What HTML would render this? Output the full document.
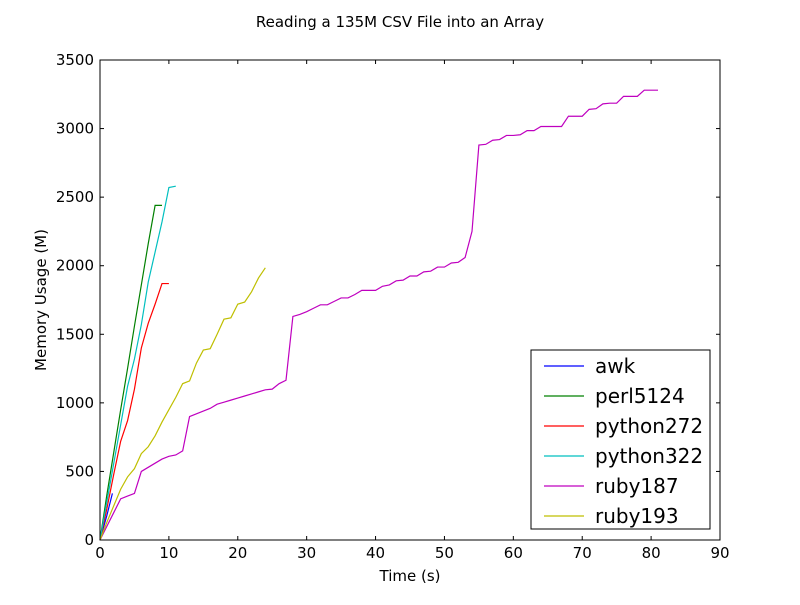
<!DOCTYPE html>
<html><head><meta charset="utf-8"><style>
body{margin:0;background:#fff}
svg text{font-family:"DejaVu Sans","Liberation Sans",sans-serif;fill:#000}
</style></head><body>
<svg id="chart" width="800" height="600" xmlns="http://www.w3.org/2000/svg">
<rect width="800" height="600" fill="#fff"/>
<text x="400" y="27" text-anchor="middle" font-size="15">Reading a 135M CSV File into an Array</text>
<g id="plot"></g>
</svg>
<script>
const xTicks=[0,10,20,30,40,50,60,70,80,90];
const yTicks=[0,500,1000,1500,2000,2500,3000,3500];
const names=["awk","perl5124","python272","python322","ruby187","ruby193"];
const colors=["#0000ff","#008000","#ff0000","#00bfbf","#bf00bf","#bfbf00"];
const awk=[0,180,340];
const awkT=[0,1,1.8];
const perl=[0,330,640,950,1250,1560,1860,2160,2440,2440];
const py272=[0,230,480,720,870,1100,1400,1580,1720,1870,1870];
const py322=[0,280,560,840,1120,1320,1570,1880,2100,2320,2570,2580];
const ruby187=[0,100,200,300,320,340,500,530,560,590,610,620,650,900,920,940,960,990,1005,1020,1035,1050,1065,1080,1095,1100,1140,1165,1630,1645,1665,1690,1715,1715,1740,1765,1765,1790,1820,1820,1820,1850,1860,1890,1895,1925,1925,1955,1960,1990,1990,2020,2025,2060,2250,2880,2885,2915,2920,2950,2950,2955,2985,2985,3015,3015,3015,3015,3090,3090,3090,3140,3145,3180,3185,3185,3235,3235,3235,3280,3280,3280];
const ruby193=[0,130,250,370,460,520,630,680,760,860,950,1040,1140,1160,1290,1385,1395,1500,1610,1620,1720,1735,1810,1910,1985];
const L=100,R=720,T=60,B=540;
const xs=v=>L+v*(R-L)/90, ys=v=>B-v*(B-T)/3500;
const g=document.getElementById('plot'),NS="http://www.w3.org/2000/svg";
function mk(t,a){const e=document.createElementNS(NS,t);for(const k in a)e.setAttribute(k,a[k]);g.appendChild(e);return e;}
const series=[[awk,awkT],[perl],[py272],[py322],[ruby187],[ruby193]];
series.forEach((s,i)=>{
 const vals=s[0],ts=s[1]||vals.map((_,j)=>j);
 const p=mk('polyline',{points:vals.map((v,j)=>xs(ts[j])+','+ys(v)).join(' '),fill:'none',stroke:colors[i],'stroke-width':1.2});
 
 
});
const fr=mk('rect',{x:L,y:T,width:R-L,height:B-T,fill:'none',stroke:'#000'});


xTicks.forEach(v=>{const x=xs(v);
 mk('line',{x1:x,x2:x,y1:B,y2:B-4,stroke:'#000'});mk('line',{x1:x,x2:x,y1:T,y2:T+4,stroke:'#000'});
 const t=mk('text',{x:x,y:B+18,'text-anchor':'middle','font-size':15});t.textContent=v;
 
 });
yTicks.forEach(v=>{const y=ys(v);
 mk('line',{x1:L,x2:L+4,y1:y,y2:y,stroke:'#000'});mk('line',{x1:R,x2:R-4,y1:y,y2:y,stroke:'#000'});
 const t=mk('text',{x:L-6,y:y+5,'text-anchor':'end','font-size':15});t.textContent=v;
 
 });
let t=mk('text',{x:410,y:581,'text-anchor':'middle','font-size':15});t.textContent='Time (s)';


t=mk('text',{x:46,y:300,'text-anchor':'middle','font-size':15,transform:'rotate(-90 46 300)'});t.textContent='Memory Usage (M)';


const lg=mk('rect',{x:531,y:350,width:179,height:179,fill:'#fff',stroke:'#000'});


names.forEach((n,i)=>{const y=366+i*30;
 mk('line',{x1:544,x2:584,y1:y,y2:y,stroke:colors[i],'stroke-width':1.2});
 const e=mk('text',{x:595,y:y+7,'font-size':20});e.textContent=n;
 
 });
</script>
</body></html>
